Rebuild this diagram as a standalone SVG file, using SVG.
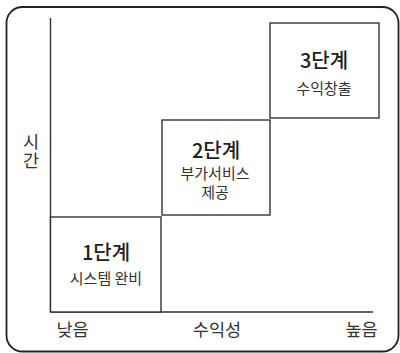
<svg xmlns="http://www.w3.org/2000/svg" width="400" height="353" viewBox="0 0 400 353">
<style>
.frame{fill:none;stroke:#222;stroke-width:1.8}
.axis{fill:none;stroke:#333;stroke-width:1.4}
.box{fill:#fff;stroke:#333;stroke-width:1.4}
text{font-family:"Noto Sans CJK KR","Noto Sans",sans-serif;fill:#222;text-anchor:middle}
.title{font-size:20px;font-weight:500}
.sub{font-size:15px;fill:#333}
.lbl{font-size:17.5px;fill:#333}
.vert{writing-mode:vertical-rl;letter-spacing:2px}
</style>
<rect width="400" height="353" fill="#fff"/>
<rect class="frame" x="6.5" y="7" width="392" height="344.5" rx="16"/>
<g id="connectors">
<line class="axis" x1="50.5" y1="18" x2="50.5" y2="312"/>
<line class="axis" x1="50.5" y1="312" x2="373" y2="312"/>
</g>
<g id="axis-y-label">
<text class="lbl vert" x="31" y="152">시간</text>
</g>
<g id="axis-x-labels">
<text class="lbl" x="72.5" y="336">낮음</text>
<text class="lbl" x="217" y="336">수익성</text>
<text class="lbl" x="361.5" y="336">높음</text>
</g>
<g id="stage1">
<rect class="box" x="50.5" y="217" width="110.5" height="95"/>
<text class="title" x="106" y="260">1단계</text>
<text class="sub" x="106" y="284">시스템 완비</text>
</g>
<g id="stage2">
<rect class="box" x="162" y="120" width="108" height="95"/>
<text class="title" x="216" y="158">2단계</text>
<text class="sub" x="215" y="179">부가서비스</text>
<text class="sub" x="215" y="198">제공</text>
</g>
<g id="stage3">
<rect class="box" x="270" y="23" width="109" height="95"/>
<text class="title" x="324" y="68">3단계</text>
<text class="sub" x="324" y="94">수익창출</text>
</g>
</svg>
